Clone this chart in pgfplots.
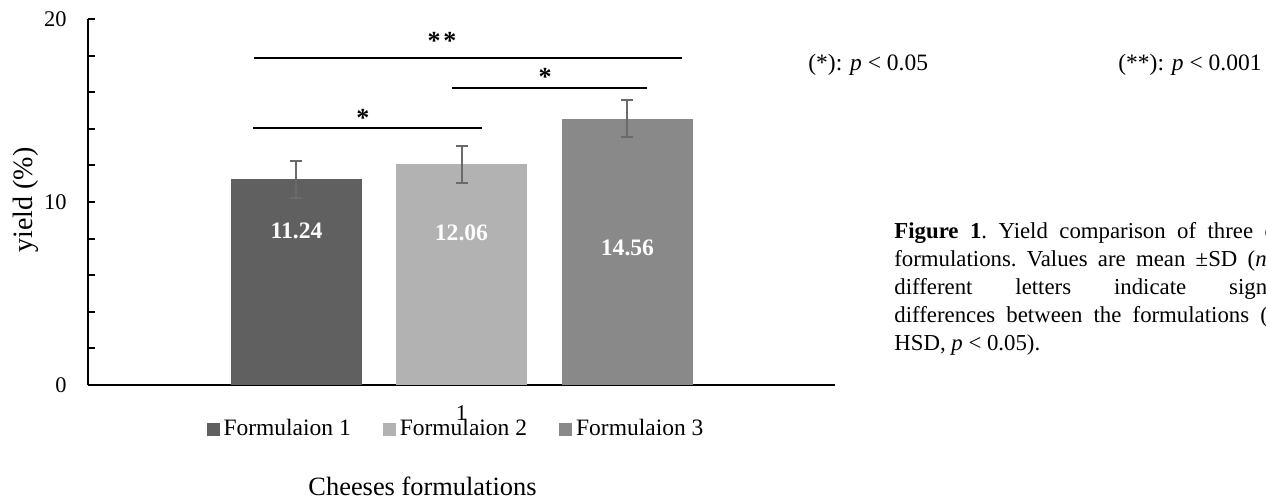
\documentclass[border=0pt]{standalone}
\usepackage{pgfplots}
\pgfplotsset{compat=1.18}
\usepackage{fontspec}
\setmainfont{Liberation Serif}
\definecolor{cA}{HTML}{606060}
\definecolor{cB}{HTML}{B2B2B2}
\definecolor{cC}{HTML}{898989}
\definecolor{errc}{HTML}{6A6A6A}
\begin{document}
\begin{tikzpicture}
\path[use as bounding box] (0,0) rectangle (633pt,250.5pt);
\clip (0,0) rectangle (633pt,250.5pt);
\begin{axis}[
  at={(44pt,58pt)}, anchor=south west,
  scale only axis, width=373.5pt, height=183pt,
  xmin=0.5, xmax=1.5, ymin=0, ymax=20,
  axis x line*=bottom, axis y line*=left,
  axis line style={line width=1.2pt, black, -},
  ytick={0,10,20}, minor ytick={2,4,6,8,12,14,16,18},
  tick align=inside,
  major tick length=3.5pt, minor tick length=3.5pt,
  every tick/.style={black, line width=1pt},
  xtick={1}, xticklabels={1},
  x tick style={draw=none},
  /pgf/number format/assume math mode=true,
  yticklabel style={anchor=east, inner sep=0pt, xshift=-10.5pt, font=\fontsize{11.2}{13}\selectfont},
  xticklabel style={anchor=base, inner sep=0pt, yshift=-18pt, font=\fontsize{11.2}{13}\selectfont},
  ylabel={yield (\%)},
  ylabel style={at={(axis description cs:-0.083,0.5055)}, anchor=center, font=\fontsize{14}{16}\selectfont},
  xlabel={Cheeses formulations},
  xlabel style={at={(axis description cs:0.4478,-0.3033)}, anchor=base, font=\fontsize{13.2}{15}\selectfont},
  legend style={at={(0.4926,-0.1202)}, anchor=center, draw=none, fill=none,
    legend columns=3, font=\fontsize{11.75}{14}\selectfont,
    /tikz/every odd column/.append style={column sep=1pt},
    /tikz/every even column/.append style={column sep=15pt},
    nodes={inner sep=1pt}},
  error bars/error bar style={line width=1pt, errc},
  error bars/error mark options={rotate=90, mark size=3pt, line width=1pt, errc},
]
\addplot[ybar, bar width=65.5pt, bar shift=0pt, fill=cA, draw=none,
  legend image code/.code={\fill[cA] (0pt,-3.3pt) rectangle (6.5pt,3.2pt);},
  error bars/.cd, y dir=both, y explicit]
  coordinates {(0.7791,11.24) +- (0,1.0)};
\addlegendentry{Formulaion 1}
\addplot[ybar, bar width=65.5pt, bar shift=0pt, fill=cB, draw=none,
  legend image code/.code={\fill[cB] (0pt,-3.3pt) rectangle (6.5pt,3.2pt);},
  error bars/.cd, y dir=both, y explicit]
  coordinates {(1.0,12.06) +- (0,1.0)};
\addlegendentry{Formulaion 2}
\addplot[ybar, bar width=65.5pt, bar shift=0pt, fill=cC, draw=none,
  legend image code/.code={\fill[cC] (0pt,-3.3pt) rectangle (6.5pt,3.2pt);},
  error bars/.cd, y dir=both, y explicit]
  coordinates {(1.2222,14.56) +- (0,1.0)};
\addlegendentry{Formulaion 3}
% significance brackets
\draw[line width=0.8pt] (axis cs:0.7222,17.87) -- (axis cs:1.2952,17.87);
\draw[line width=0.8pt] (axis cs:0.9873,16.23) -- (axis cs:1.2483,16.23);
\draw[line width=0.8pt] (axis cs:0.7209,14.04) -- (axis cs:1.0274,14.04);
\node[anchor=base, inner sep=0pt, font=\fontsize{13}{15}\selectfont\bfseries] at (axis cs:0.9739,18.36) {*\kern1.5pt*};
\node[anchor=base, inner sep=0pt, font=\fontsize{13}{15}\selectfont\bfseries] at (axis cs:1.1118,16.34) {*};
\node[anchor=base, inner sep=0pt, font=\fontsize{13}{15}\selectfont\bfseries] at (axis cs:0.8681,14.10) {*};
% value labels
\node[anchor=base, inner sep=0pt, text=white, font=\fontsize{11.8}{14}\selectfont\bfseries] at (axis cs:0.7791,7.98) {11.24};
\node[anchor=base, inner sep=0pt, text=white, font=\fontsize{11.8}{14}\selectfont\bfseries] at (axis cs:1.0,7.87) {12.06};
\node[anchor=base, inner sep=0pt, text=white, font=\fontsize{11.8}{14}\selectfont\bfseries] at (axis cs:1.2222,7.10) {14.56};
\end{axis}
\node[anchor=base west, inner sep=0pt, font=\fontsize{11.75}{14}\selectfont] at (404pt,215pt) {(*): \textit{p} < 0.05};
\node[anchor=base west, inner sep=0pt, font=\fontsize{11.75}{14}\selectfont] at (559pt,215pt) {(**): \textit{p} < 0.001};
\node[anchor=base west, inner sep=0pt] at (447pt,131pt) {\parbox[t]{215.5pt}{\fontsize{11.4}{13.9}\selectfont\frenchspacing\tolerance=10000
\textbf{Figure 1}. Yield comparison of three cheese\linebreak
formulations. Values are mean ±SD (\textit{n} = 3);\linebreak
different letters indicate significant\linebreak
differences between the formulations (Tukey\linebreak
HSD, \textit{p} < 0.05).}};
\end{tikzpicture}
\end{document}
